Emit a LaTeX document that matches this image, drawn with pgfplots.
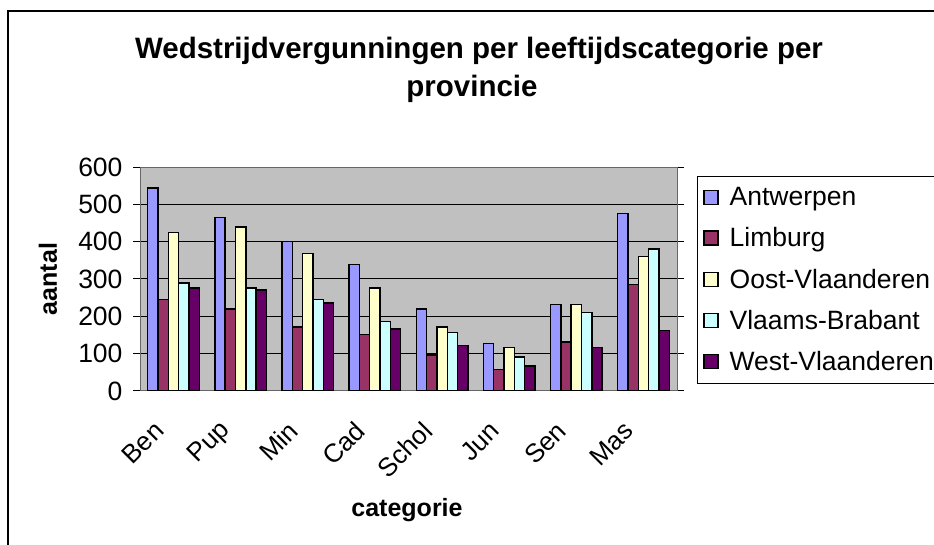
\documentclass[border=0pt]{standalone}
\usepackage{pgfplots}
\pgfplotsset{compat=1.18}
\usepackage{fontspec}
\setmainfont{Liberation Sans}
\definecolor{cA}{HTML}{9999FF}
\definecolor{cL}{HTML}{993366}
\definecolor{cO}{HTML}{FFFFCC}
\definecolor{cV}{HTML}{CCFFFF}
\definecolor{cW}{HTML}{660066}
\definecolor{plotbg}{HTML}{C0C0C0}
\begin{document}
\begin{tikzpicture}[x=1pt,y=1pt]
\path[use as bounding box] (0,0) rectangle (934,545);
\clip (0,0) rectangle (934,545);
\draw[line width=2pt] (8,-20) -- (8,534) -- (960,534);
\node[anchor=base,font=\fontsize{29.5}{34}\selectfont\bfseries] at (479,486) {Wedstrijdvergunningen per leeftijdscategorie per};
\node[anchor=base,font=\fontsize{29.5}{34}\selectfont\bfseries] at (472,448) {provincie};
\node[rotate=90,font=\fontsize{25}{30}\selectfont\bfseries] at (48,266) {aantal};
\node[font=\fontsize{25}{30}\selectfont\bfseries] at (407,35) {categorie};
\begin{axis}[
  at={(140pt,154pt)}, anchor=south west,
  scale only axis, width=537pt, height=224pt,
  xmin=-0.5, xmax=7.5, ymin=0, ymax=600,
  ytick={0,100,...,600},
  xtick={0,...,7},
  xticklabels={Ben,Pup,Min,Cad,Schol,Jun,Sen,Mas},
  extra x ticks={-0.5,0.5,...,7.5},
  extra x tick labels={},
  extra x tick style={major tick length=7pt, tick style={black, line width=1pt}, grid=none},
  major x tick style={draw=none},
  ymajorgrids, grid style={black, line width=1pt},
  axis background/.style={fill=plotbg},
  axis line style={draw=gray!80!black, line width=1pt},
  ytick style={black, line width=1pt},
  tick align=outside, major tick length=7pt,
  /pgf/number format/assume math mode=true,
  yticklabel style={font=\fontsize{26.5}{30}\selectfont, xshift=-7pt},
  xticklabel style={font=\fontsize{26}{30}\selectfont, xshift=-12pt, yshift=-26pt, rotate=45, anchor=east},
  ybar=0pt, bar width=10.33pt,
  mybar/.style={draw=black, line width=1.4pt, fill=#1},
  legend style={at={(1.0372,0.9598)}, anchor=north west, draw=black, line width=1pt,
    font=\fontsize{26.5}{30}\selectfont, row sep=16.5pt, inner xsep=6pt, inner ysep=9pt,
    legend cell align=left,
    /tikz/every odd column/.append style={column sep=9pt}},
  legend image code/.code={\draw[#1, line width=1.2pt] (2pt,-7pt) rectangle (16pt,7pt);},
]
\addplot[mybar=cA] coordinates {(0,544) (1,464) (2,401) (3,339) (4,220) (5,127) (6,231) (7,475)};
\addplot[mybar=cL] coordinates {(0,245) (1,220) (2,171) (3,152) (4,96) (5,57) (6,131) (7,286)};
\addplot[mybar=cO] coordinates {(0,425) (1,439) (2,369) (3,276) (4,171) (5,116) (6,231) (7,360)};
\addplot[mybar=cV] coordinates {(0,289) (1,276) (2,245) (3,186) (4,156) (5,91) (6,211) (7,380)};
\addplot[mybar=cW] coordinates {(0,276) (1,270) (2,236) (3,166) (4,122) (5,67) (6,116) (7,162)};
\legend{Antwerpen,Limburg,Oost-Vlaanderen,Vlaams-Brabant,West-Vlaanderen}
\end{axis}
\end{tikzpicture}
\end{document}
